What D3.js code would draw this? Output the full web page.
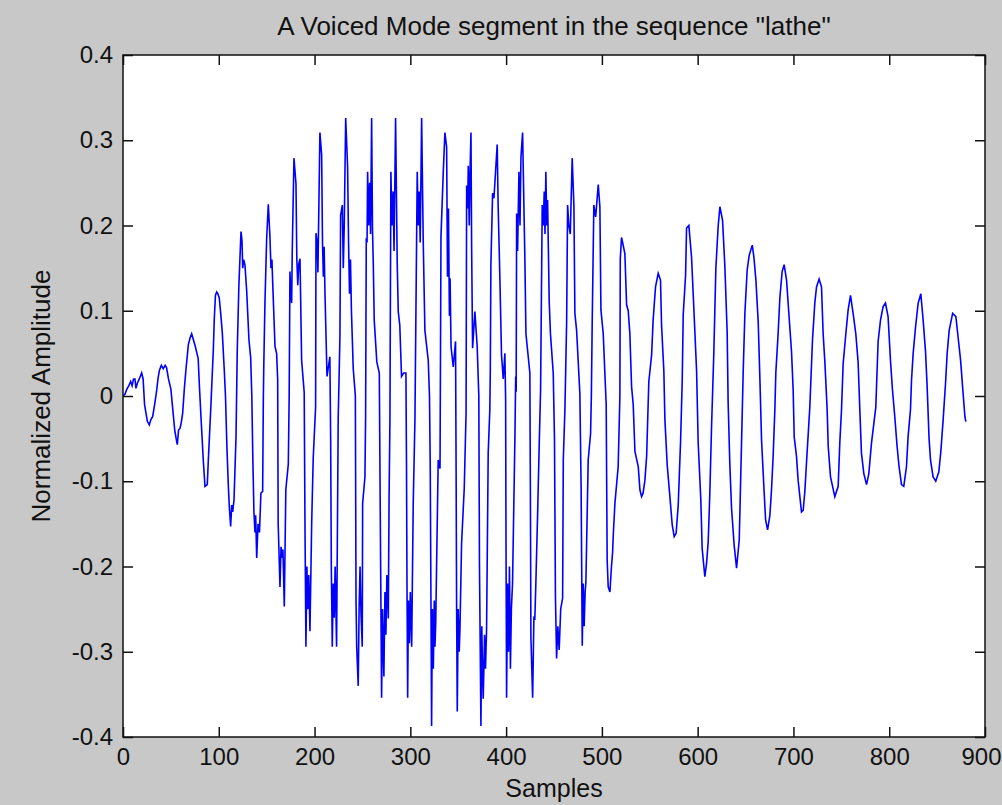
<!DOCTYPE html>
<html>
<head>
<meta charset="utf-8">
<script src="https://cdn.jsdelivr.net/npm/d3@7"></script>
<style>
  html, body { margin: 0; padding: 0; background: #c8c8c8; }
  svg { display: block; }
  text { font-family: "Liberation Sans", Arial, Helvetica, sans-serif; fill: #111; }
</style>
</head>
<body>
<svg id="chart" width="1002" height="805"></svg>
<script>
// ---------- data ----------
const chartTitle = 'A Voiced Mode segment in the sequence "lathe"';
const xLabel = "Samples";
const yLabel = "Normalized Amplitude";
const xTicks = [0, 100, 200, 300, 400, 500, 600, 700, 800, 900];
const yTicks = [-0.4, -0.3, -0.2, -0.1, 0, 0.1, 0.2, 0.3, 0.4];
const xDomain = [0, 900];
const yDomain = [-0.4, 0.4];

// [sample index, normalized amplitude]
const waveform = [
[0,0.000],[2,0.002],[4,0.008],[6,0.012],[8,0.017],[9.5,0.012],[11,0.020],[12.5,0.020],[13.5,0.009],[15,0.015],[17,0.020],[19.5,0.027],[21,0.020],[22.5,-0.010],[24,-0.020],[25.5,-0.030],[27.5,-0.034],[29,-0.028],[31,-0.024],[33,-0.010],[35,0.005],[36.5,0.020],[38,0.030],[40,0.036],[42,0.032],[44,0.036],[45.5,0.033],[47.5,0.020],[50,0.008],[52,-0.016],[54,-0.040],[55.5,-0.050],[56.7,-0.057],[58,-0.040],[59.5,-0.038],[61,-0.030],[62.3,-0.020],[64,0.008],[65.8,0.032],[68.2,0.060],[70,0.068],[71.7,0.073],[73.5,0.066],[75.5,0.058],[77.2,0.050],[78.5,0.044],[79.8,0.011],[81.4,-0.024],[83.8,-0.075],[85.6,-0.106],[88,-0.104],[89.1,-0.075],[91.5,-0.018],[94.3,0.054],[95.3,0.090],[96.5,0.118],[97.8,0.122],[99,0.120],
[100.5,0.115],[102,0.097],[103.7,0.074],[105.8,0.029],[107,0.000],[108.5,-0.060],[110,-0.106],[111,-0.130],[112.4,-0.153],[113.5,-0.128],[114.5,-0.136],[115.9,-0.122],[118,-0.048],[119.3,0.054],[121,0.130],[123.2,0.193],[124.2,0.183],[125,0.150],[126,0.160],[127.3,0.154],[129.1,0.124],[131.5,0.066],[133.3,0.045],[134.5,0.000],[135.5,-0.070],[136.7,-0.136],[137.8,-0.160],[138.5,-0.140],[139.6,-0.190],[141,-0.150],[142.5,-0.160],[144,-0.114],[145.8,-0.112],[146.5,-0.005],[147,0.036],[148.2,0.109],[150,0.185],[151.7,0.225],[153.4,0.187],[154.5,0.150],[155.5,0.160],[156.3,0.133],[158.7,0.058],[160.4,0.050],[161.5,0.019],[162,-0.149],[163.9,-0.224],[165,-0.177],[166,-0.190],[167,-0.180],[168.4,-0.247],[170,-0.110],[172.6,-0.080],[173.5,0.000],
[174.3,0.146],[175.2,0.120],[176.1,0.109],[176.7,0.169],[178.5,0.279],[180.6,0.249],[181.5,0.160],[182.5,0.130],[183.5,0.155],[184.8,0.161],[186.5,0.042],[189.2,0.004],[190,-0.151],[191,-0.294],[192,-0.200],[193,-0.250],[194,-0.210],[195.2,-0.276],[197,-0.149],[198.6,-0.073],[201.1,-0.013],
[201.5,0.191],[202.8,0.179],[203.5,0.145],[205.6,0.309],[207.4,0.283],[208.3,0.180],[209.2,0.140],[210,0.175],[210.9,0.120],[213,0.023],[216,0.046],[216.8,-0.050],[217.5,-0.200],[218.5,-0.294],[219.5,-0.220],[220.5,-0.260],[221.5,-0.200],[223,-0.294],[224.7,-0.026],
[226.5,0.070],[227.2,0.212],[229,0.224],[230,0.150],[231,0.200],[232.5,0.326],[234.5,0.269],[235.5,0.180],[236.5,0.120],[237.5,0.160],[238.5,0.100],[240.4,0.032],[242.6,0.000],[243.3,-0.240],[244,-0.294],[245.6,-0.340],[246.5,-0.250],[247.5,-0.200],[248.5,-0.255],[249.8,-0.294],[250.2,-0.126],[252.6,-0.095],[253.3,-0.025],
[254,0.185],[254.8,0.180],[255.4,0.263],[256.5,0.200],[257.5,0.250],[258.5,0.190],[259.6,0.326],[260.5,0.195],[261.3,0.156],[262.3,0.089],[265,0.040],[267.6,0.027],[268.3,-0.089],[269,-0.200],[270,-0.354],[271,-0.250],[272.4,-0.329],[273.5,-0.230],[274.5,-0.280],[275.5,-0.210],[277,-0.261],[277.8,-0.120],[278.7,-0.028],
[279.7,0.263],[280.8,0.200],[282,0.240],[283,0.170],[284.6,0.326],[286.3,0.156],[287.4,0.099],[289,0.083],[290.8,0.023],[293,0.027],[295.4,0.027],[296,-0.080],[296.5,-0.220],[297.2,-0.354],[298,-0.240],[299,-0.290],[300,-0.230],[301.4,-0.294],[303,-0.128],[304.8,-0.028],
[307.2,0.263],[308.3,0.200],[309.3,0.240],[310.3,0.180],[311.8,0.326],[313.5,0.179],[315.2,0.077],[318.7,0.042],[320,0.000],[320.8,-0.085],[322.2,-0.387],[323,-0.250],[324,-0.320],[325,-0.240],[325.7,-0.294],[326.5,-0.267],[329.1,-0.075],[331,-0.085],
[332,0.187],[334.4,0.263],[336.1,0.309],[337.9,0.292],[338.8,0.140],[339.8,0.220],[340.8,0.094],[341.5,0.138],[342.5,0.058],[344.8,0.034],[347.2,0.064],[347.8,-0.087],[348.3,-0.245],[349,-0.370],[350,-0.250],[351,-0.300],[351.8,-0.274],[353.5,-0.173],[356.3,-0.108],[358.2,-0.020],
[358.8,0.247],[359.8,0.220],[360.5,0.270],[361.5,0.200],[362.3,0.260],[363.3,0.309],[364,0.174],[365,0.056],[367.4,0.099],[369.8,0.058],[371.5,0.000],[372.2,-0.200],[373.7,-0.387],[374.6,-0.270],[375.5,-0.330],[376.1,-0.355],[377.5,-0.280],[378.5,-0.320],[379.6,-0.274],[381.3,-0.067],[383,-0.016],
[383.5,0.030],[384.1,0.154],[385.9,0.238],[387.3,0.232],[390.7,0.295],[391.7,0.222],[393.5,0.138],[395.2,0.048],[397,0.020],[398.7,0.050],[399.5,-0.005],[399.9,-0.173],[400.5,-0.354],[401.5,-0.220],[402.5,-0.300],[403.5,-0.200],[404.5,-0.320],[405.5,-0.250],[406.7,-0.220],[409.2,-0.048],
[410,0.023],[410.5,0.005],[411,0.214],[412,0.170],[413.4,0.263],[414.5,0.200],[415.5,0.280],[417.2,0.309],[419.6,0.160],[420.7,0.073],[424.8,0.027],[425.3,-0.100],[425.9,-0.284],[427.7,-0.354],[429,-0.260],[430,-0.261],[431,-0.222],[432.9,-0.138],[434.6,-0.055],[436,0.007],
[437.7,0.224],[438.8,0.200],[439.8,0.240],[440.6,0.190],[441.5,0.263],[442.5,0.200],[443.3,0.230],[445,0.111],[446.3,0.073],[449.2,0.027],[450.5,-0.050],[451.5,-0.235],[452.7,-0.308],[454,-0.270],[455.4,-0.298],[457,-0.250],[459,-0.237],[459.7,-0.075],[461.4,-0.016],
[463.2,0.087],[464.2,0.224],[465.5,0.200],[467,0.190],[469,0.279],[470.8,0.222],[471.8,0.097],[473.6,0.077],[477,0.003],[478.3,-0.106],[479.5,-0.293],[480.5,-0.220],[481.5,-0.270],[482.5,-0.230],[483.3,-0.218],[485.7,-0.075],[488.2,-0.044],[489,0.000],
[489.9,0.087],[491.6,0.224],[493.5,0.210],[496.2,0.248],[497.9,0.222],[499,0.101],[501.4,0.073],[503.1,0.027],[504.5,-0.010],[505.5,-0.192],[506.6,-0.224],[508.4,-0.230],[510,-0.200],[511.2,-0.183],[511.8,-0.165],[513.6,-0.126],[517,-0.083],[518.8,0.000],
[519.2,0.161],[520.5,0.186],[522,0.178],[524,0.167],[525.8,0.107],[527.5,0.100],[529.2,0.073],[531,0.011],[532.7,-0.010],[534.5,-0.065],[538,-0.083],[539.7,-0.110],[541.4,-0.118],[543,-0.114],[544.9,-0.099],[546.7,-0.071],[549,0.017],
[551.9,0.048],[553.5,0.089],[556,0.128],[558.8,0.144],[561.2,0.136],[562.3,0.083],[564.7,0.029],[565.8,-0.028],[568.2,-0.081],[571,-0.118],[573.4,-0.151],[575.5,-0.165],[577.5,-0.161],[579.7,-0.128],[582.2,-0.052],[583.9,0.019],[584.9,0.095],[587.4,0.142],[588.4,0.197],[590.8,0.200],[593.6,0.163],[596,0.103],[598.9,0.029],[600.5,-0.054],[603.3,-0.122],[604.7,-0.179],[607.5,-0.212],[609.3,-0.196],[611,-0.171],[612.7,-0.114],[614.5,-0.036],[616.9,0.052],[619,0.150],[621.4,0.199],[623.2,0.222],[626,0.206],[628.4,0.152],[630.8,0.075],[631.8,-0.007],[633.6,-0.081],[635.4,-0.132],[638.1,-0.175],[640.6,-0.202],[643.4,-0.169],[645.8,-0.055],[647.5,0.027],[649.3,0.097],[651.7,0.148],[653.8,0.165],[657,0.177],[658.7,0.163],[660.8,0.136],[663.2,0.087],[665,0.019],[666.7,-0.052],[669.1,-0.106],[670.9,-0.145],[673,-0.157],[675.4,-0.140],[677.1,-0.110],[678.8,-0.071],[680.6,-0.016],[681.6,0.027],[684,0.073],[685.8,0.115],[688.2,0.146],[690.3,0.154],[692.8,0.136],[695.2,0.097],[698,0.052],[699.7,0.007],[700.8,-0.048],[703.2,-0.071],[704.9,-0.099],[708.4,-0.136],[710.2,-0.134],[711.9,-0.112],[713.7,-0.077],[717.1,-0.013],[719.9,0.066],[722.3,0.109],[724.1,0.128],[726.8,0.137],[729.3,0.128],[731,0.073],[732.8,0.040],[735.2,-0.016],[736.3,-0.059],[738.7,-0.095],[743.2,-0.118],[746.7,-0.106],[748.4,-0.055],[750.2,-0.016],[751.9,0.038],[754.7,0.073],[757.1,0.101],[759.6,0.118],[762.3,0.097],[765.1,0.073],[767.5,0.040],[769.3,-0.016],[771,-0.067],[773.5,-0.091],[776.3,-0.104],[778.7,-0.091],[781.5,-0.055],[786,-0.013],[788.4,0.064],[790.9,0.089],[793.6,0.105],[796.1,0.109],[798.8,0.093],[801.4,0.040],[803.4,0.007],[805.8,-0.024],[808.2,-0.059],[810.3,-0.083],[812.8,-0.104],[815.2,-0.106],[818,-0.083],[819.7,-0.048],[822.2,-0.016],[823.3,0.019],[825,0.050],[827.5,0.081],[830.2,0.109],[833,0.120],[835.4,0.089],[837.9,0.052],[839.6,0.011],[841.6,-0.050],[843.1,-0.075],[845.8,-0.095],[848.6,-0.100],[851.8,-0.089],[853.9,-0.065],[856.3,-0.028],[858.8,0.015],[860.5,0.050],[862.6,0.077],[866.2,0.097],[869.6,0.093],[872,0.068],[874.5,0.042],[876.6,0.011],[879,-0.024],[880,-0.030]
];

// ---------- layout ----------
const W = 1002, H = 805;
const margin = { left: 123, right: W - 985, top: 55, bottom: H - 737 };

const svg = d3.select("#chart");
svg.append("rect").attr("x", 0).attr("y", 0).attr("width", W).attr("height", H).attr("fill", "#c8c8c8");

const x = d3.scaleLinear().domain(xDomain).range([margin.left, W - margin.right]);
const y = d3.scaleLinear().domain(yDomain).range([H - margin.bottom, margin.top]);

// plot background
svg.append("rect")
  .attr("x", x(xDomain[0])).attr("y", y(yDomain[1]))
  .attr("width", x(xDomain[1]) - x(xDomain[0]))
  .attr("height", y(yDomain[0]) - y(yDomain[1]))
  .attr("fill", "#ffffff");

const fmtY = v => (Math.abs(v) < 1e-9 ? "0" : d3.format(".1f")(v).replace("\u2212", "-"));
const fmtX = v => String(v);
const tickLen = 10;
const tickFont = 24;

// clip for the signal
svg.append("clipPath").attr("id", "plotClip").append("rect")
  .attr("x", x(xDomain[0])).attr("y", y(yDomain[1]))
  .attr("width", x(xDomain[1]) - x(xDomain[0]))
  .attr("height", y(yDomain[0]) - y(yDomain[1]));

// signal
const line = d3.line().x(d => x(d[0])).y(d => y(d[1]));
svg.append("path")
  .datum(waveform)
  .attr("clip-path", "url(#plotClip)")
  .attr("fill", "none")
  .attr("stroke", "#0000ff")
  .attr("stroke-width", 1.6)
  .attr("stroke-linejoin", "miter")
  .attr("d", line);

function styleAxis(g) {
  g.select(".domain").remove();
  g.selectAll(".tick line").attr("stroke", "#111").attr("stroke-width", 1.5);
  g.selectAll(".tick text").style("font-size", tickFont + "px").attr("fill", "#111");
}

// bottom axis (labels)
const bottomAxis = svg.append("g")
  .attr("transform", `translate(0,${y(yDomain[0])})`)
  .call(d3.axisBottom(x).tickValues(xTicks).tickFormat(fmtX).tickSizeInner(-tickLen).tickSizeOuter(0).tickPadding(11))
  .call(styleAxis);
// keep the last label inside the window
bottomAxis.selectAll(".tick text")
  .filter(d => d === xDomain[1])
  .attr("text-anchor", "end")
  .attr("x", W - 1 - x(xDomain[1]));

// top axis (ticks only)
svg.append("g")
  .attr("transform", `translate(0,${y(yDomain[1])})`)
  .call(d3.axisTop(x).tickValues(xTicks).tickFormat("").tickSizeInner(-tickLen).tickSizeOuter(0))
  .call(styleAxis);
// left axis (labels)
svg.append("g")
  .attr("transform", `translate(${x(xDomain[0])},0)`)
  .call(d3.axisLeft(y).tickValues(yTicks).tickFormat(fmtY).tickSizeInner(-tickLen).tickSizeOuter(0).tickPadding(10))
  .call(styleAxis);
// right axis (ticks only)
svg.append("g")
  .attr("transform", `translate(${x(xDomain[1])},0)`)
  .call(d3.axisRight(y).tickValues(yTicks).tickFormat("").tickSizeInner(-tickLen).tickSizeOuter(0))
  .call(styleAxis);

// box
svg.append("rect")
  .attr("x", x(xDomain[0])).attr("y", y(yDomain[1]))
  .attr("width", x(xDomain[1]) - x(xDomain[0]))
  .attr("height", y(yDomain[0]) - y(yDomain[1]))
  .attr("fill", "none").attr("stroke", "#111").attr("stroke-width", 1.5);

// title and labels
const midX = (x(xDomain[0]) + x(xDomain[1])) / 2;
svg.append("text").attr("x", midX).attr("y", 35)
  .attr("text-anchor", "middle").style("font-size", "26px").text(chartTitle);
svg.append("text").attr("x", midX).attr("y", 797)
  .attr("text-anchor", "middle").style("font-size", "25px").text(xLabel);
svg.append("text")
  .attr("transform", `translate(50,${(y(yDomain[0]) + y(yDomain[1])) / 2}) rotate(-90)`)
  .attr("text-anchor", "middle").style("font-size", "26px").text(yLabel);
</script>
</body>
</html>
